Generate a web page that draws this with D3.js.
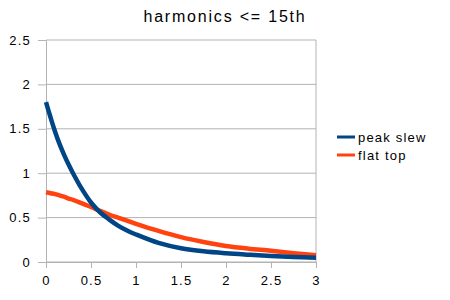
<!DOCTYPE html>
<html>
<head>
<meta charset="utf-8">
<script src="https://cdn.jsdelivr.net/npm/d3@7"></script>
<style>
  body { margin: 0; background: #fff; }
  text { font-family: "Liberation Sans", Arial, sans-serif; fill: #000; }
</style>
</head>
<body>
<svg id="chart" width="450" height="300"></svg>
<script>
const xs = [0, 0.05, 0.1, 0.15, 0.2, 0.25, 0.3, 0.4, 0.5, 0.6, 0.7, 0.8, 0.9, 1.0, 1.25, 1.5, 1.75, 2.0, 2.25, 2.5, 2.75, 3.0];
const peakSlew = [1.8, 1.63, 1.47, 1.33, 1.21, 1.1, 1.0, 0.82, 0.67, 0.56, 0.48, 0.41, 0.355, 0.31, 0.215, 0.155, 0.12, 0.098, 0.082, 0.068, 0.057, 0.048];
const flatTop = [0.785, 0.775, 0.765, 0.75, 0.735, 0.715, 0.7, 0.66, 0.62, 0.575, 0.535, 0.5, 0.465, 0.43, 0.35, 0.28, 0.225, 0.18, 0.15, 0.127, 0.1, 0.077];
const xTicks = [0, 0.5, 1, 1.5, 2, 2.5, 3];
const yTicks = [0, 0.5, 1, 1.5, 2, 2.5];
const seriesNames = ["peak slew", "flat top"];
const colors = ["#004586", "#ff420e"];

const svg = d3.select("#chart");
const margin = {top: 40, right: 134, bottom: 38, left: 46};
const width = 450, height = 300;

const x = d3.scaleLinear().domain([0, 3]).range([margin.left, width - margin.right]);
const y = d3.scaleLinear().domain([0, 2.5]).range([height - margin.bottom, margin.top]);

// title
svg.append("text")
  .attr("x", 225).attr("y", 22)
  .attr("text-anchor", "middle")
  .style("font-size", "16px")
  .style("letter-spacing", "1.8px")
  .text("harmonics <= 15th");

// gridlines
svg.append("g").selectAll("line")
  .data(yTicks)
  .enter().append("line")
    .attr("x1", x(0)).attr("x2", x(3))
    .attr("y1", d => y(d)).attr("y2", d => y(d))
    .attr("stroke", "#b3b3b3");

// right border
svg.append("line")
  .attr("x1", x(3)).attr("x2", x(3))
  .attr("y1", y(0)).attr("y2", y(2.5))
  .attr("stroke", "#b3b3b3");

// axes
const yAxis = svg.append("g")
  .attr("transform", `translate(${x(0)},0)`)
  .call(d3.axisLeft(y).tickValues(yTicks).tickFormat(d3.format("")).tickSize(8).tickPadding(7));
const xAxis = svg.append("g")
  .attr("transform", `translate(0,${y(0)})`)
  .call(d3.axisBottom(x).tickValues(xTicks).tickFormat(d3.format("")).tickSize(6).tickPadding(8));

[xAxis, yAxis].forEach(a => {
  a.select(".domain").attr("stroke", "#b3b3b3");
  a.selectAll(".tick line").attr("stroke", "#b3b3b3");
  a.selectAll(".tick text")
    .style("font-size", "13px")
    .style("letter-spacing", "1.2px")
    .style("font-family", "Liberation Sans, Arial, sans-serif")
    .attr("fill", "#111");
});

// lines
const line = d3.line()
  .x((d, i) => x(xs[i]))
  .y(d => y(d))
  .curve(d3.curveCatmullRom);

[flatTop, peakSlew].forEach((s, k) => {
  svg.append("path")
    .datum(s)
    .attr("fill", "none")
    .attr("stroke", k === 0 ? colors[1] : colors[0])
    .attr("stroke-width", 4.5)
    .attr("d", line);
});

// legend
const legend = svg.append("g").attr("transform", "translate(337,137)");
seriesNames.forEach((name, i) => {
  legend.append("line")
    .attr("x1", 0).attr("x2", 18)
    .attr("y1", i * 18).attr("y2", i * 18)
    .attr("stroke", colors[i]).attr("stroke-width", 3);
  legend.append("text")
    .attr("x", 21).attr("y", i * 18 + 5)
    .style("font-size", "13px")
    .style("letter-spacing", "1.2px")
    .text(name);
});
</script>
</body>
</html>
